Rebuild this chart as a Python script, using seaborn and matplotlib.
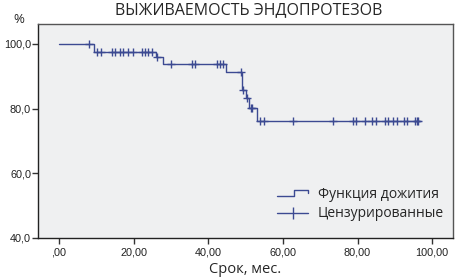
import numpy as np
import pandas as pd
import seaborn as sns
import matplotlib.pyplot as plt
from matplotlib.legend_handler import HandlerBase
from matplotlib.lines import Line2D

# survival curve: time of each step and level after it
step_time = [0.0, 9.5, 26.0, 28.0, 44.8, 49.0, 50.0, 51.0, 53.0, 96.8]
step_surv = [100.0, 97.4, 96.1, 93.9, 91.3, 85.8, 83.2, 80.3, 76.2, 76.2]

# censored observations
cens_time = [8.0, 10.1, 11.4, 14.1, 15.0, 16.3, 17.2, 18.5, 19.9, 22.2, 23.1, 24.0, 24.9,
             26.2, 30.0, 35.6, 36.5, 42.3, 43.2, 43.9, 48.8, 49.3, 50.3, 51.4, 51.8,
             53.9, 54.9, 62.8, 73.4, 78.7, 79.6, 82.0, 84.0, 84.9, 87.3, 88.2, 89.4,
             90.5, 92.5, 93.2, 95.4, 95.8, 96.2]
cens_surv = [100.0] + [97.4] * 12 + [96.1] + [93.9] * 6 + [91.3, 85.8, 83.2, 80.3, 80.3] + [76.2] * 18

x_ticks = [0, 20, 40, 60, 80, 100]
x_labels = [",00", "20,00", "40,00", "60,00", "80,00", "100,00"]
y_ticks = [40, 60, 80, 100]
y_labels = ["40,0", "60,0", "80,0", "100,0"]

curve = pd.DataFrame({"time": step_time, "surv": step_surv})
cens = pd.DataFrame({"time": cens_time, "surv": cens_surv})

blue = "#3c4a92"

sns.set_style("white")
plt.rcParams['font.family'] = ['Open Sans', 'DejaVu Sans']

fig = plt.figure(figsize=(4.55, 2.78), dpi=100)
ax = fig.add_axes([0.0835, 0.144, 0.9115, 0.77])
ax.set_facecolor("#eff0f1")

sns.lineplot(x="time", y="surv", data=curve, drawstyle="steps-post", color=blue,
             lw=1.0, estimator=None, ax=ax, legend=False)
sns.scatterplot(x="time", y="surv", data=cens, marker="+", s=32, color=blue,
                linewidth=1.0, ax=ax, legend=False)

ax.set_xlim(-5.6, 105.5)
ax.set_ylim(40, 106.2)
ax.set_xticks(x_ticks)
ax.set_xticklabels(x_labels, family="Liberation Sans", fontsize=7.8, color="#222222")
ax.set_yticks(y_ticks)
ax.set_yticklabels(y_labels, family="Liberation Sans", fontsize=7.8, color="#222222")
ax.tick_params(direction="out", length=4, width=1, color="#333333", pad=1)
ax.tick_params(axis="x", bottom=True, pad=3)
ax.tick_params(axis="y", left=True)
for side in ['top', 'bottom', 'left', 'right']:
    ax.spines[side].set_color("#555555")
    ax.spines[side].set_linewidth(1.0)
ax.spines['left'].set_color("#222222")
ax.spines['bottom'].set_color("#222222")

ax.set_xlabel("Срок, мес.", fontsize=10.5, labelpad=3)
ax.set_ylabel("")
fig.text(0.547, 0.965, "ВЫЖИВАЕМОСТЬ ЭНДОПРОТЕЗОВ", ha="center", va="center", fontsize=11.5)
fig.text(0.042, 0.93, "%", ha="center", va="center", fontsize=9.5)


# legend handles: little step for the curve, line with cross for censored
class StepHandler(HandlerBase):
    def create_artists(self, legend, orig_handle, xdescent, ydescent, width, height, fontsize, trans):
        x0 = -xdescent
        y0 = -ydescent
        xs = [x0, x0 + width * 0.55, x0 + width * 0.55, x0 + width, x0 + width]
        ys = [y0 + height * 0.2, y0 + height * 0.2, y0 + height * 0.75, y0 + height * 0.75, y0 + height * 0.45]
        ln = Line2D(xs, ys, color=blue, lw=1.0, transform=trans)
        return [ln]


h_curve = Line2D([], [], color=blue)
h_cens = Line2D([], [], color=blue, lw=1.0, marker="|", markersize=8, markeredgewidth=1.0)
ax.legend([h_curve, h_cens], ["Функция дожития", "Цензурированные"],
          handler_map={h_curve: StepHandler()}, loc="lower right", frameon=False,
          bbox_to_anchor=(1.0, 0.035),
          fontsize=10, handlelength=2.2, handletextpad=0.7, labelspacing=0.35,
          borderaxespad=0.25)

plt.savefig("out.png", dpi=100)
